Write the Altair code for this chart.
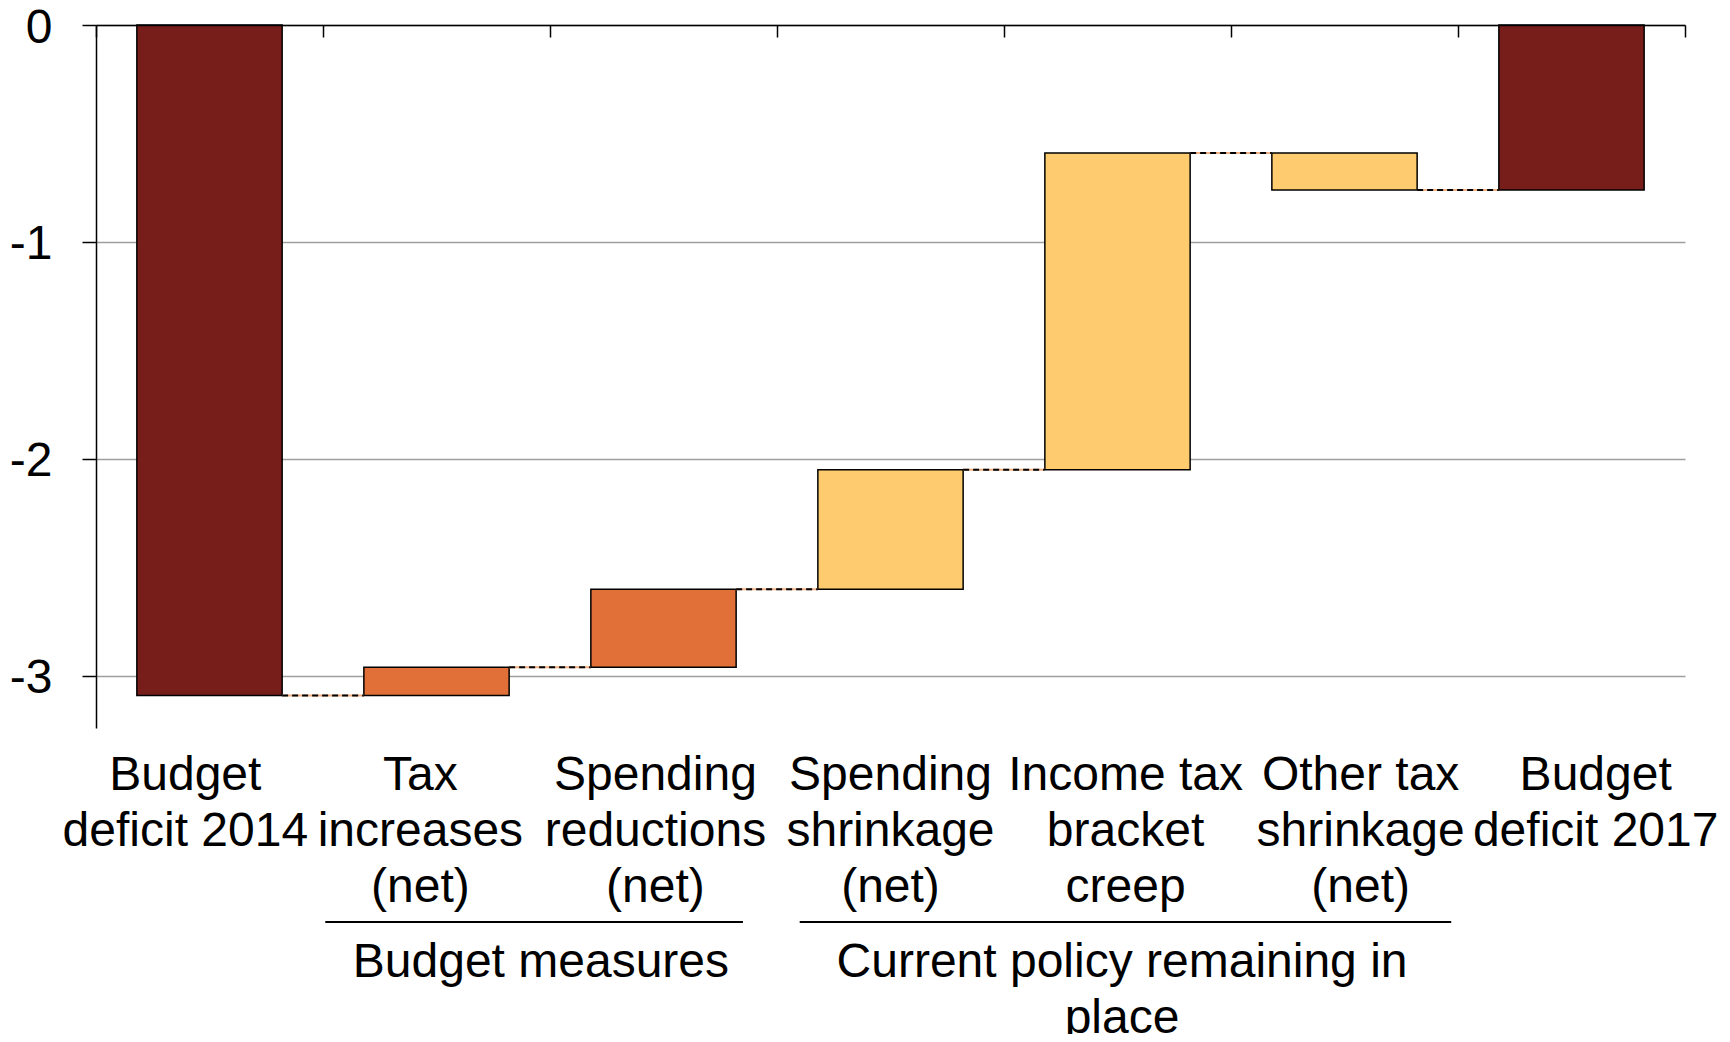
import altair as alt
import pandas as pd

# ---- data ----
categories = [
    "Budget deficit 2014",
    "Tax increases (net)",
    "Spending reductions (net)",
    "Spending shrinkage (net)",
    "Income tax bracket creep",
    "Other tax shrinkage (net)",
    "Budget deficit 2017",
]
label_text = [
    "Budget\ndeficit 2014",
    "Tax\nincreases\n(net)",
    "Spending\nreductions\n(net)",
    "Spending\nshrinkage\n(net)",
    "Income tax\nbracket\ncreep",
    "Other tax\nshrinkage\n(net)",
    "Budget\ndeficit 2017",
]
changes = [-3.09, 0.13, 0.36, 0.55, 1.46, -0.17, -0.76]
kinds = ["total", "budget", "budget", "policy", "policy", "policy", "total"]

group_names = ["Budget measures", "Current policy remaining in\nplace"]
group_start = [1.01, 3.10]   # in category units
group_end = [2.85, 5.97]
group_center = [1.96, 4.52]

y_ticks = [0, -1, -2, -3]
category_bounds = [0, 1, 2, 3, 4, 5, 6, 7]

kind_domain = ["total", "budget", "policy"]
kind_colors = ["#771E1B", "#E07038", "#FECC6E"]

# ---- build tables ----
starts, ends = [], []
level = 0.0
for v, k in zip(changes, kinds):
    if k == "total":
        s, e = 0.0, v
    else:
        s, e = level, level + v
    starts.append(s)
    ends.append(e)
    level = e

df = pd.DataFrame({
    "cat": categories,
    "label": label_text,
    "kind": kinds,
    "start": starts,
    "end": ends,
})

conn_df = pd.DataFrame({
    "idx": list(range(len(categories) - 1)),
    "level": ends[:-1],
})

gdf = pd.DataFrame({
    "name": group_names,
    "gs": group_start,
    "ge": group_end,
    "gc": group_center,
})

W, H = 1589, 703
FONT = "Liberation Sans"

yscale = alt.Scale(domain=[-3.24, 0], nice=False, zero=False)
yaxis = alt.Axis(
    values=y_ticks, title=None, labelFont=FONT, labelFontSize=48,
    labelColor="black", labelPadding=30, labelOffset=3, labelFlush=False,
    labelExpr="datum.value + ''",
    tickSize=14, tickColor="black", tickWidth=1.5,
    domainColor="black", domainWidth=1.5,
    gridColor="#9f9f9f", gridWidth=1.5,
)
qscale = alt.Scale(domain=[0, 7], nice=False, zero=False)
top_axis = alt.Axis(
    orient="bottom", offset=-H, labels=False, ticks=True,
    values=category_bounds, tickSize=12, tickColor="black", tickWidth=1.5,
    domainColor="black", domainWidth=1.5, title=None, grid=False, zindex=1,
)

bars = alt.Chart(df).mark_bar(stroke="black", strokeWidth=1.5).encode(
    x=alt.X(
        "cat:N", sort=categories,
        scale=alt.Scale(paddingInner=0.36, paddingOuter=0.18),
        axis=None,
    ),
    y=alt.Y("start:Q", scale=yscale, axis=yaxis),
    y2="end:Q",
    color=alt.Color("kind:N", scale=alt.Scale(domain=kind_domain, range=kind_colors), legend=None),
)

conn = alt.Chart(conn_df).transform_calculate(
    xa="datum.idx + 0.82", xb="datum.idx + 1.18"
)
conn_bg = conn.mark_rule(color="#F4B183", strokeWidth=2).encode(
    x=alt.X("xa:Q", scale=qscale, axis=None),
    x2="xb:Q",
    y=alt.Y("level:Q", scale=yscale, axis=yaxis),
)
conn_dash = conn.mark_rule(color="black", strokeWidth=2, strokeDash=[6, 4]).encode(
    x=alt.X("xa:Q", scale=qscale, axis=top_axis),
    x2="xb:Q",
    y=alt.Y("level:Q", scale=yscale, axis=yaxis),
)

labels = alt.Chart(df).mark_text(
    font=FONT, fontSize=48, lineBreak="\n", lineHeight=56,
    baseline="alphabetic", align="center", color="black",
).encode(
    x=alt.X("cat:N", sort=categories,
            scale=alt.Scale(type="point", padding=0.38, align=0.5), axis=None),
    y=alt.value(765),
    text="label:N",
)

grp_rule = alt.Chart(gdf).mark_rule(color="black", strokeWidth=2).encode(
    x=alt.X("gs:Q", scale=qscale, axis=None),
    x2="ge:Q",
    y=alt.value(897),
)
grp_text = alt.Chart(gdf).mark_text(
    font=FONT, fontSize=48, lineBreak="\n", lineHeight=56,
    baseline="alphabetic", align="center", color="black",
).encode(
    x=alt.X("gc:Q", scale=qscale, axis=None),
    y=alt.value(952),
    text="name:N",
)

chart = alt.layer(
    bars, conn_bg, conn_dash, labels, grp_rule, grp_text
).resolve_scale(
    x="independent"
).properties(
    width=W, height=H,
    autosize=alt.AutoSizeParams(type="none"),
    padding={"left": 88, "top": 17, "right": 37, "bottom": 306},
).configure_view(stroke=None)

chart.save("out.html", embed_options={"renderer": "svg", "actions": False})
